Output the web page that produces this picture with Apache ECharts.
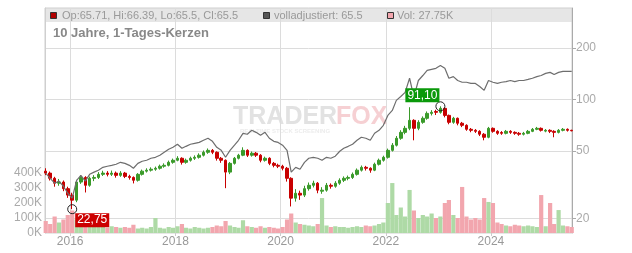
<!DOCTYPE html>
<html><head><meta charset="utf-8">
<script src="https://cdn.jsdelivr.net/npm/echarts@6/dist/echarts.min.js"></script>
<style>html,body{margin:0;padding:0;background:#fff}#c{width:632px;height:253px}</style>
</head><body><div id="c"></div>
<script>
// ---- data (monthly samples) ----
const months = [
 '2015-07','2015-08','2015-09','2015-10','2015-11','2015-12',
 '2016-01','2016-02','2016-03','2016-04','2016-05','2016-06','2016-07','2016-08','2016-09','2016-10','2016-11','2016-12',
 '2017-01','2017-02','2017-03','2017-04','2017-05','2017-06','2017-07','2017-08','2017-09','2017-10','2017-11','2017-12',
 '2018-01','2018-02','2018-03','2018-04','2018-05','2018-06','2018-07','2018-08','2018-09','2018-10','2018-11','2018-12',
 '2019-01','2019-02','2019-03','2019-04','2019-05','2019-06','2019-07','2019-08','2019-09','2019-10','2019-11','2019-12',
 '2020-01','2020-02','2020-03','2020-04','2020-05','2020-06','2020-07','2020-08','2020-09','2020-10','2020-11','2020-12',
 '2021-01','2021-02','2021-03','2021-04','2021-05','2021-06','2021-07','2021-08','2021-09','2021-10','2021-11','2021-12',
 '2022-01','2022-02','2022-03','2022-04','2022-05','2022-06','2022-07','2022-08','2022-09','2022-10','2022-11','2022-12',
 '2023-01','2023-02','2023-03','2023-04','2023-05','2023-06','2023-07','2023-08','2023-09','2023-10','2023-11','2023-12',
 '2024-01','2024-02','2024-03','2024-04','2024-05','2024-06','2024-07','2024-08','2024-09','2024-10','2024-11','2024-12',
 '2025-01','2025-02','2025-03','2025-04','2025-05','2025-06','2025-07'
];
const openP = [
 38.0,37.0,34.5,32.3,32.8,30.0,
 27.5,25.7,32.8,34.9,31.4,34.5,34.9,36.4,37.0,36.4,37.0,35.9,
 37.0,35.4,34.9,33.6,36.4,38.0,38.5,39.0,39.5,40.6,41.1,42.8,
 44.0,45.2,42.8,44.0,45.2,45.8,47.1,49.0,50.3,49.0,45.2,44.0,
 37.5,42.2,45.2,47.1,50.3,47.1,48.4,47.1,44.0,45.2,42.2,41.1,
 40.6,39.5,34.5,26.4,28.2,27.5,30.0,31.4,32.3,29.0,29.4,31.4,
 31.0,32.3,33.6,34.5,34.9,36.4,38.5,40.0,39.5,38.5,41.7,44.0,
 45.8,50.3,53.9,59.2,64.1,67.7,75.4,67.7,73.4,77.5,82.8,85.0,
 84.0,88.6,80.6,73.4,77.5,72.5,70.5,66.8,65.9,65.0,62.5,60.0,
 67.7,65.0,64.0,63.3,65.0,64.1,63.3,62.5,63.3,65.0,66.8,67.7,
 65.2,65.9,65.0,64.1,65.9,66.8,65.9
];
const closeP = [
 37.0,34.5,32.3,32.8,30.0,27.5,
 25.7,32.8,34.9,31.4,34.5,34.9,36.4,37.0,36.4,37.0,35.9,37.0,
 35.4,34.9,33.6,36.4,38.0,38.5,39.0,39.5,40.6,41.1,42.8,44.0,
 45.2,42.8,44.0,45.2,45.8,47.1,49.0,50.3,49.0,45.2,44.0,37.5,
 42.2,45.2,47.1,50.3,47.1,48.4,47.1,44.0,45.2,42.2,41.1,40.6,
 39.5,34.5,26.4,28.2,27.5,30.0,31.4,32.3,29.4,29.4,31.4,31.0,
 32.3,33.6,34.5,34.9,36.4,38.5,40.0,39.5,38.5,41.7,44.0,45.8,
 50.3,53.9,59.2,64.1,67.7,75.4,67.7,73.4,77.5,82.8,84.0,84.0,
 88.6,80.6,73.4,77.5,72.5,70.5,66.8,65.9,65.0,62.5,60.0,67.7,
 65.0,63.3,63.3,65.0,64.1,63.3,62.5,63.3,65.0,66.8,67.7,65.9,
 65.9,65.0,64.1,65.9,66.8,65.9,65.5
];
const lowP = [
 36.0,33.5,30.8,31.2,29.0,26.5,
 22.75,25.0,32.0,28.5,30.8,33.2,34.2,35.6,35.4,35.6,34.8,35.2,
 34.6,33.9,32.2,33.0,35.8,37.3,37.8,38.2,38.8,39.8,40.5,42.0,
 43.4,41.5,42.0,43.2,44.2,45.0,46.3,48.0,47.8,43.8,42.5,30.2,
 36.5,41.5,44.5,46.5,46.0,46.2,46.0,42.8,43.2,41.2,40.0,39.6,
 38.4,33.0,23.6,25.2,25.8,26.8,29.2,30.5,28.2,28.0,28.8,30.0,
 30.4,31.6,32.8,33.6,34.2,35.8,37.8,38.3,37.2,38.0,41.0,43.2,
 45.0,49.5,53.0,58.0,62.5,66.0,57.6,66.0,72.0,76.0,80.5,81.0,
 82.5,78.5,71.5,72.0,70.5,68.8,65.5,64.2,63.6,61.0,57.6,59.2,
 63.8,62.0,62.0,62.4,62.8,62.0,61.2,61.5,62.5,64.3,66.0,64.8,
 64.2,63.5,60.0,63.2,65.0,64.8,65.0
];
const highP = [
 39.5,37.8,35.2,34.2,33.5,30.8,
 28.4,33.8,36.0,35.5,35.3,36.0,37.5,38.2,38.0,38.3,37.8,38.0,
 37.6,36.2,35.4,37.0,38.8,39.5,40.0,40.4,41.5,42.2,43.8,45.0,
 46.5,45.8,45.0,46.2,47.0,48.3,50.2,51.6,51.2,49.6,46.0,44.5,
 43.0,46.0,48.0,52.4,51.0,49.5,49.2,47.8,46.2,45.8,43.0,42.0,
 41.4,40.2,35.0,29.8,29.2,31.2,32.6,33.4,32.8,30.6,32.4,32.2,
 33.2,34.5,35.4,35.8,37.3,39.4,41.0,40.8,40.0,42.6,45.0,46.8,
 51.5,55.5,61.0,66.0,70.0,90.0,76.5,75.5,79.5,85.0,86.5,87.0,
 91.1,89.5,81.5,79.0,78.3,73.8,71.5,68.0,67.0,66.0,63.5,69.0,
 68.5,66.0,65.2,66.2,66.0,65.0,64.4,64.5,66.2,68.0,69.0,68.5,
 67.0,66.8,66.0,67.0,68.0,67.6,66.4
];
const adjusted = [
 37.0,34.5,32.3,33.2,31.0,28.2,
 26.4,33.6,35.9,33.2,36.4,37.5,38.5,40.0,40.6,41.1,41.7,42.8,
 42.2,41.1,39.5,42.2,43.4,44.0,45.2,45.8,47.1,49.0,51.0,52.4,
 54.6,51.7,53.1,54.6,55.3,56.0,57.6,59.2,56.8,52.4,50.3,45.8,
 50.3,53.9,57.6,63.3,62.5,65.9,64.1,61.6,64.1,59.2,56.8,56.0,
 53.9,50.3,37.5,40.0,39.0,42.8,45.2,45.8,45.2,44.0,45.8,45.2,
 46.5,49.7,51.7,53.1,54.6,57.6,60.0,59.2,57.6,63.3,65.9,70.5,
 80.6,86.2,98.7,104,110,133,103,129,138,148,150,152,
 158,152,133,136,129,126,126,124,124,119,113,129,
 126,124,126,127,129,127,129,129,131,133,136,138,
 142,144,140,144,146,146,146
];
const volumeK = [
 80,60,110,70,90,120,
 150,90,60,100,50,40,45,40,35,45,40,35,
 40,35,55,30,35,30,40,100,35,30,40,35,
 45,60,35,30,40,35,30,35,40,50,45,80,
 50,40,35,85,45,40,35,45,35,40,35,30,
 40,90,130,70,60,55,50,45,60,233,50,40,
 45,40,40,35,40,45,40,50,45,50,60,70,
 200,333,120,170,110,287,150,100,120,110,130,100,
 110,200,220,120,100,307,110,90,100,90,233,207,
 200,70,60,50,45,55,50,45,50,45,40,253,
 45,200,60,153,50,45,40
];
const priceTicks = [20, 50, 100, 200];
const volumeTicks = [0, 100, 200, 300, 400];
const yearTicks = ['2016-01-01','2018-01-01','2020-01-01','2022-01-01','2024-01-01'];
const xRange = ['2015-07-10', '2025-07-17'];
const legendTexts = ['Op:65.71, Hi:66.39, Lo:65.5, Cl:65.5', 'volladjustiert: 65.5', 'Vol: 27.75K'];
const titleText = '10 Jahre, 1-Tages-Kerzen';
const lowIdx = 6, highIdx = 90;

// ---- chart ----
const FONT = 'Arial, "Liberation Sans", sans-serif';
const UP = '#3a9a2a', DOWN = '#c80000';
const VUP = '#aedaa6', VDOWN = '#f2a6ae';
const ts = s => { const p = s.split('-').map(Number); return Date.UTC(p[0], p[1] - 1, p[2]); };
const dates = months.map(m => ts(m + '-15'));
const yearTs = yearTicks.map(ts);
const candleData = dates.map((d, i) => [d, openP[i], closeP[i], lowP[i], highP[i]]);
const adjData = dates.map((d, i) => [d, adjusted[i]]);
const volData = dates.map((d, i) => ({
  value: [d, volumeK[i]],
  itemStyle: { color: closeP[i] >= openP[i] ? VUP : VDOWN }
}));
const fmtDe = v => v.toFixed(2).replace('.', ',');
const logTicks = priceTicks.map(v => Math.log10(v));
const PMIN = 16.5, PMAX = 343;

const chart = echarts.init(document.getElementById('c'), null, { renderer: 'canvas' });
chart.setOption({
  animation: false,
  backgroundColor: '#fff',
  grid: { left: 45, right: 60, top: 8, bottom: 20, show: true, borderColor: '#cfcfcf', borderWidth: 1 },
  xAxis: {
    type: 'value', min: ts(xRange[0]), max: ts(xRange[1]),
    axisLine: { show: false },
    axisTick: { show: true, length: 3, customValues: yearTs, lineStyle: { color: '#ccc' } },
    axisLabel: { customValues: yearTs, formatter: v => String(new Date(v).getUTCFullYear()),
      color: '#999', fontSize: 12, fontFamily: FONT, margin: 3 },
    splitLine: { show: true, lineStyle: { color: '#dcdcdc', width: 1 } }
  },
  yAxis: [
    { type: 'value', position: 'left', min: 0, max: 1500,
      axisLine: { show: true, lineStyle: { color: '#cfcfcf' } },
      axisTick: { show: false },
      axisLabel: { customValues: volumeTicks, formatter: v => v + 'K', color: '#aaa', fontSize: 12, fontFamily: FONT, margin: 3 },
      splitLine: { show: false } },
    { type: 'log', logBase: 10, position: 'right', min: PMIN, max: PMAX, show: false,
      splitLine: { show: false } },
    { type: 'value', position: 'right', min: Math.log10(PMIN), max: Math.log10(PMAX),
      axisLine: { show: true, lineStyle: { color: '#aaa' } },
      axisTick: { show: true, length: 4, customValues: logTicks, lineStyle: { color: '#aaa' } },
      axisLabel: { customValues: logTicks, formatter: v => String(Math.round(Math.pow(10, v))),
        color: '#aaa', fontSize: 12, fontFamily: FONT, margin: 4 },
      splitLine: { show: true, lineStyle: { color: '#dcdcdc', width: 1 } } }
  ],
  graphic: [
    { type: 'rect', z: -10, shape: { x: 45, y: 8, width: 527, height: 14 }, style: { fill: '#e6e6e6' } },
    { type: 'rect', z: 50, shape: { x: 50.5, y: 12.5, width: 6, height: 6 }, style: { fill: '#b00000', stroke: '#333', lineWidth: 1 } },
    { type: 'text', z: 50, style: { text: legendTexts[0], x: 62, y: 15.5, fill: '#999', font: '11px ' + FONT, verticalAlign: 'middle' } },
    { type: 'rect', z: 50, shape: { x: 263.5, y: 12.5, width: 6, height: 6 }, style: { fill: '#555', stroke: '#333', lineWidth: 1 } },
    { type: 'text', z: 50, style: { text: legendTexts[1], x: 274, y: 15.5, fill: '#999', font: '11px ' + FONT, verticalAlign: 'middle' } },
    { type: 'rect', z: 50, shape: { x: 387.5, y: 12.5, width: 6, height: 6 }, style: { fill: '#f2a6ae', stroke: '#333', lineWidth: 1 } },
    { type: 'text', z: 50, style: { text: legendTexts[2], x: 397, y: 15.5, fill: '#999', font: '11px ' + FONT, verticalAlign: 'middle' } },
    { type: 'text', z: 50, style: { text: titleText, x: 53, y: 33, fill: '#888', font: 'bold 13px ' + FONT, verticalAlign: 'middle' } },
    { type: 'text', z: -5, style: { text: 'TRADER', x: 233, y: 117, fill: '#e2e2e2', font: 'bold 25px ' + FONT, verticalAlign: 'middle' } },
    { type: 'text', z: -5, style: { text: 'FOX', x: 336, y: 117, fill: '#f6d0d3', font: 'bold 25px ' + FONT, verticalAlign: 'middle' } },
    { type: 'text', z: -5, style: { text: 'REALTIME STOCK SCREENING', x: 240, y: 131, fill: '#ececec', font: 'bold 6px ' + FONT, verticalAlign: 'middle' } }
  ],
  series: [
    { name: 'Vol', type: 'bar', xAxisIndex: 0, yAxisIndex: 0, data: volData, barWidth: 4.2, silent: true },
    { name: 'volladjustiert', type: 'line', xAxisIndex: 0, yAxisIndex: 1, data: adjData, symbol: 'none',
      lineStyle: { color: '#6e6e6e', width: 1.2 }, silent: true },
    { name: 'Kurs', type: 'candlestick', xAxisIndex: 0, yAxisIndex: 1, data: candleData,
      encode: { x: 0, y: [1, 2, 3, 4] }, barWidth: 3, silent: true,
      itemStyle: { color: UP, color0: DOWN, borderColor: UP, borderColor0: DOWN, borderWidth: 1 },
      markPoint: {
        symbol: 'circle', symbolSize: 9, silent: true,
        itemStyle: { color: 'rgba(255,255,255,0)', borderColor: '#222', borderWidth: 1 },
        data: [
          { coord: [dates[lowIdx], lowP[lowIdx]], value: lowP[lowIdx],
            label: { show: true, position: 'inside', offset: [20, 11], formatter: p => fmtDe(p.value),
              backgroundColor: '#cc0000', color: '#fff', fontSize: 12, fontFamily: FONT, padding: [1, 2] } },
          { coord: [dates[highIdx], highP[highIdx]], value: highP[highIdx],
            label: { show: true, position: 'inside', offset: [-18, -11], formatter: p => fmtDe(p.value),
              backgroundColor: '#0a990a', color: '#fff', fontSize: 12, fontFamily: FONT, padding: [1, 2] } }
        ]
      } }
  ]
});
</script></body></html>
